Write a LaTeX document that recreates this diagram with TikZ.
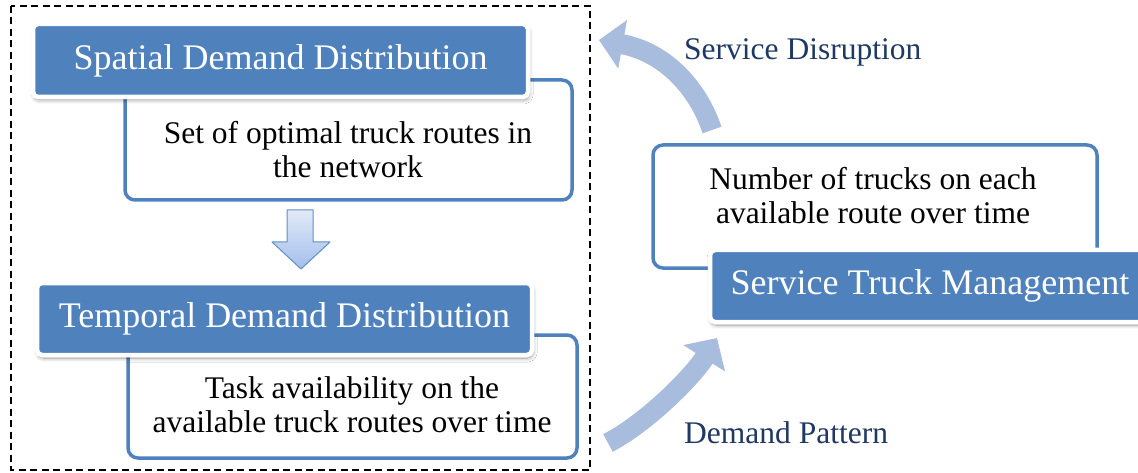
\documentclass[tikz,border=0pt]{standalone}
\usepackage{fontspec}
\setmainfont{Liberation Serif}
\usetikzlibrary{arrows.meta,shadows.blur}
\definecolor{boxblue}{HTML}{4F81BD}
\definecolor{flowblue}{HTML}{A8BDDD}
\definecolor{labelblue}{HTML}{1F3864}
\definecolor{arrowtop}{HTML}{E2EAF8}
\definecolor{arrowbot}{HTML}{A3BEEC}
\tikzset{
  titlebox/.style={fill=boxblue, draw=white, line width=4.5pt, rounded corners=5pt,
    text=white, font=\fontsize{36}{40}\selectfont, inner sep=0pt,
    blur shadow={shadow xshift=1pt, shadow yshift=-3pt, shadow blur radius=4pt,
      shadow blur steps=10, shadow opacity=40}},
  detailbox/.style={draw=boxblue, line width=3.5pt, rounded corners=10pt, fill=white, inner sep=0pt},
  bodytext/.style={align=center, font=\fontsize{31.5}{34}\selectfont, inner sep=0pt},
  flowlabel/.style={text=labelblue, font=\fontsize{31.5}{34}\selectfont, inner sep=0pt, anchor=west},
  flow/.style={draw=flowblue, line width=20pt, -{Triangle[width=48pt,length=24pt]}}
}
\begin{document}
\begin{tikzpicture}[x=1pt,y=-1pt]
\useasboundingbox (0,0) rectangle (1138,473);

% dashed frame around the two demand stages
\draw[dash pattern=on 7pt off 4.5pt, line width=1.4pt] (11,6) rectangle (590,470);

% spatial stage
\node[detailbox, minimum width=447pt, minimum height=120pt] (spatialdet) at (348.5,140) {};
\node[bodytext] (spatialtxt) at (348,150) {Set of optimal truck routes in\\the network};
\node[titlebox, minimum width=495pt, minimum height=73pt] (spatial) at (280.5,60.5) {Spatial Demand Distribution};

% arrow between the stages
\path[draw=boxblue!90, line width=1pt, top color=arrowtop, bottom color=arrowbot, line join=round]
  (287,210) -- (313,210) -- (313,242) -- (330,242) -- (301,269) -- (272,242) -- (287,242) -- cycle;

% temporal stage
\node[detailbox, minimum width=449pt, minimum height=123pt] (temporaldet) at (352.5,396.5) {};
\node[bodytext] (temporaltxt) at (352,405) {Task availability on the\\available truck routes over time};
\node[titlebox, minimum width=495pt, minimum height=72pt] (temporal) at (284.5,319) {Temporal Demand Distribution};

% service truck management
\node[detailbox, minimum width=444pt, minimum height=123pt] (trucksdet) at (875,206.5) {};
\node[bodytext] (truckstxt) at (873,196) {Number of trucks on each\\available route over time};
\node[titlebox, minimum width=440pt, minimum height=72pt] (service) at (930,286) {Service Truck Management};

% feedback arrows
\coordinate (uptail) at (712,130);
\coordinate (uptip) at (599,40);
\coordinate (lowtail) at (608,443);
\coordinate (lowtip) at (717,338);
\draw[flow] (uptail) .. controls (698,88) and (665,52) .. (uptip);
\draw[flow] (lowtail) .. controls (648,422) and (693,376) .. (lowtip);

\node[flowlabel] (disruption) at (684,52) {Service Disruption};
\node[flowlabel] (pattern) at (684,433) {Demand Pattern};
\end{tikzpicture}
\end{document}
